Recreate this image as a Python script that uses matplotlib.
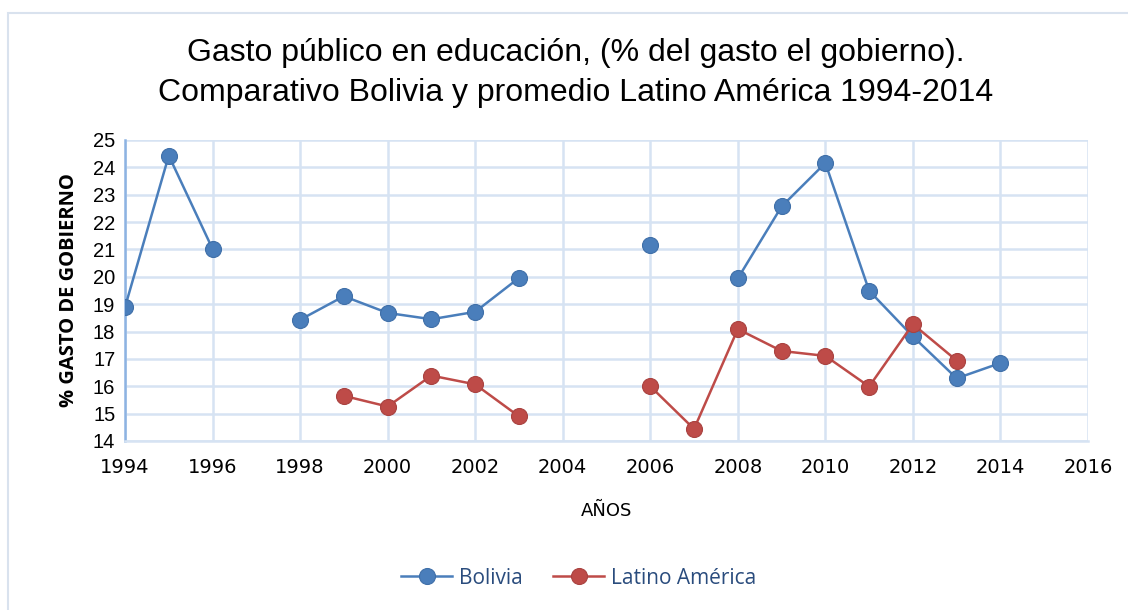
import numpy as np
import matplotlib.pyplot as plt
from matplotlib.patches import Rectangle

# Gasto público en educación (% del gasto del gobierno)
bolivia_years = [1994, 1995, 1996, 1997, 1998, 1999, 2000, 2001, 2002, 2003,
                 2004, 2005, 2006, 2007, 2008, 2009, 2010, 2011, 2012, 2013, 2014]
bolivia_values = [18.89, 24.43, 21.02, np.nan, 18.43, 19.29, 18.68, 18.45, 18.72, 19.96,
                  np.nan, np.nan, 21.17, np.nan, 19.94, 22.57, 24.16, 19.49, 17.82, 16.29, 16.85]

latam_years = [1999, 2000, 2001, 2002, 2003, 2004, 2005, 2006, 2007, 2008,
               2009, 2010, 2011, 2012, 2013]
latam_values = [15.65, 15.26, 16.39, 16.07, 14.90, np.nan, np.nan, 16.00, 14.44, 18.09,
                17.29, 17.11, 15.99, 18.27, 16.94]

x_ticks = list(range(1994, 2017, 2))
y_ticks = list(range(14, 26))

BLUE = "#4A7EBB"
RED = "#BE4B48"
GRID = "#D6E3F3"

fig = plt.figure(figsize=(11.28, 6.10), dpi=100)
fig.patches.append(Rectangle((8 / 1128, -0.01), 1.02, 1 - 13 / 610 + 0.01,
                             transform=fig.transFigure, fill=False,
                             edgecolor="#D9E2EE", linewidth=1.5))

ax = fig.add_axes([125 / 1128, 1 - 441 / 610, (1088 - 125) / 1128, (441 - 140) / 610])

ax.plot(bolivia_years, bolivia_values, color=BLUE, lw=1.8, marker="o", ms=11.5,
        mfc=BLUE, mec="#3F6FA8", mew=0.8, label="Bolivia", zorder=3)
ax.plot(latam_years, latam_values, color=RED, lw=1.8, marker="o", ms=11.5,
        mfc=RED, mec="#A94240", mew=0.8, label="Latino América", zorder=3)

ax.set_xlim(1994, 2016)
ax.set_ylim(14, 25)
ax.set_xticks(x_ticks)
ax.set_yticks(y_ticks)
ax.grid(True, color=GRID, lw=1.8)
ax.set_axisbelow(True)
for side in ["top", "right"]:
    ax.spines[side].set_visible(False)
ax.spines["left"].set_color("#8DB3E2")
ax.spines["left"].set_linewidth(1.8)
ax.spines["bottom"].set_color(GRID)
ax.spines["bottom"].set_linewidth(1.8)
ax.tick_params(length=0, pad=7)

for lbl in ax.get_yticklabels():
    lbl.set_family("Liberation Sans")
    lbl.set_fontsize(14.5)
for lbl in ax.get_xticklabels():
    lbl.set_family("Liberation Sans Narrow")
    lbl.set_fontsize(14)
ax.tick_params(axis="x", pad=12)

ax.set_xlabel("AÑOS", family="Liberation Sans Narrow", fontsize=13, labelpad=18)
ax.set_ylabel("% GASTO DE GOBIERNO", family="Open Sans", fontweight="bold",
              fontsize=14.5, labelpad=10)

fig.text(0.51, 1 - 53 / 610, "Gasto público en educación, (% del gasto el gobierno).",
         ha="center", va="center", family="Liberation Sans", fontsize=23)
fig.text(0.51, 1 - 93 / 610, "Comparativo Bolivia y promedio Latino América 1994-2014",
         ha="center", va="center", family="Liberation Sans", fontsize=23)

leg = fig.legend(loc="center", bbox_to_anchor=(0.513, 1 - 578 / 610), ncol=2,
                 frameon=False, handlelength=2.45, columnspacing=1.45,
                 handletextpad=0.33, prop={"family": "Open Sans", "size": 15})
for text in leg.get_texts():
    text.set_color("#2A4C7D")

fig.savefig("out.png", dpi=100)
